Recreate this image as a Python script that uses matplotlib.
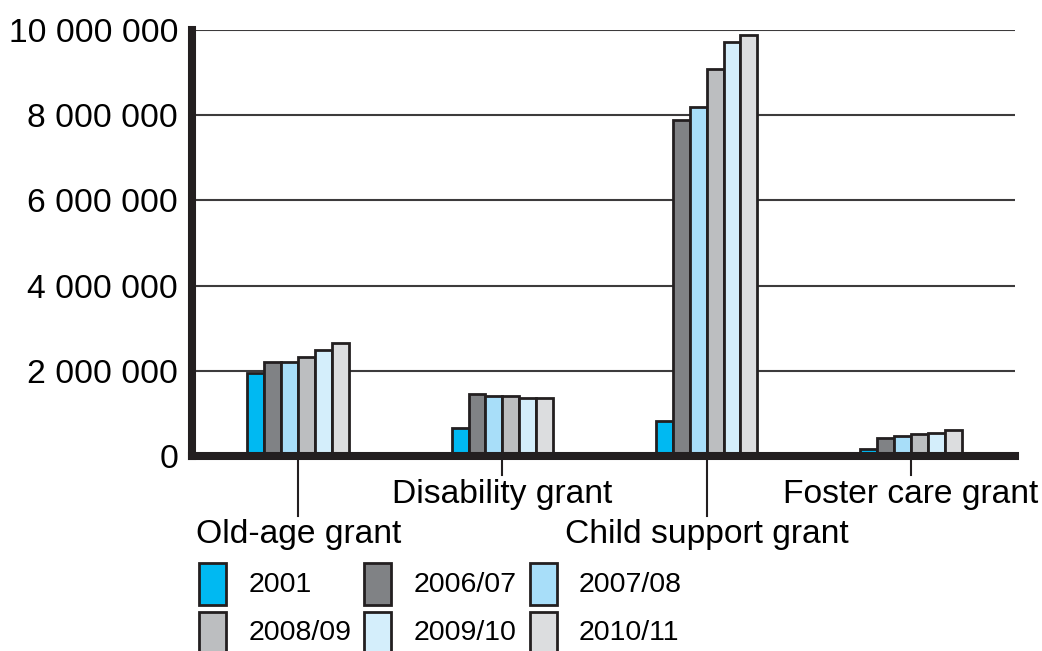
import numpy as np
import matplotlib.pyplot as plt
from matplotlib.patches import Rectangle
import matplotlib.transforms as mtransforms

# ---------------
# data
# ---------------
grants = ['Old-age grant', 'Disability grant', 'Child support grant', 'Foster care grant']
years = ['2001', '2006/07', '2007/08', '2008/09', '2009/10', '2010/11']
colors = ['#00b9f2', '#808285', '#a8def9', '#bcbec0', '#d4eefb', '#dcdddf']

values = {
    '2001':    [1950000, 650000, 820000, 170000],
    '2006/07': [2210000, 1450000, 7880000, 430000],
    '2007/08': [2210000, 1410000, 8190000, 480000],
    '2008/09': [2330000, 1410000, 9080000, 510000],
    '2009/10': [2500000, 1370000, 9720000, 540000],
    '2010/11': [2650000, 1370000, 9880000, 610000],
}
y_ticks = [0, 2000000, 4000000, 6000000, 8000000, 10000000]

edge = '#231f20'
plt.rcParams['font.family'] = ['Liberation Sans', 'DejaVu Sans']

fig = plt.figure(figsize=(10.42, 6.51), dpi=100)
ax = fig.add_axes([0.1843, 0.2995, 0.974 - 0.1843, 0.9539 - 0.2995])

x = np.arange(len(grants))
width = 0.083
for i, yr in enumerate(years):
    offs = (i - 2.5) * width
    ax.bar(x + offs, values[yr], width, color=colors[i], edgecolor=edge,
           linewidth=2.0, zorder=3)

ax.set_xlim(-0.52, 3.51)
ax.set_ylim(0, 10000000)
ax.set_yticks(y_ticks)
ax.set_yticklabels([f'{v:,}'.replace(',', ' ') for v in y_ticks], fontsize=24.2)
ax.tick_params(axis='y', length=0, pad=10)
ax.set_xticks([])

for v in y_ticks[1:]:
    ax.axhline(v, color='#3d3b3c', linewidth=1.5, zorder=1)

for s in ['top', 'right']:
    ax.spines[s].set_visible(False)
ax.spines['left'].set_linewidth(5.8)
ax.spines['left'].set_color(edge)
ax.spines['bottom'].set_linewidth(5.8)
ax.spines['bottom'].set_color(edge)
ax.spines['bottom'].set_zorder(5)

# staggered category labels with long tick lines
trans = mtransforms.blended_transform_factory(ax.transData, ax.transAxes)
for i, g in enumerate(grants):
    low = (i % 2 == 0)
    tick_end = -0.14 if low else -0.045
    label_y = -0.185 if low else -0.09
    ax.plot([x[i], x[i]], [0, tick_end], color=edge, linewidth=1.5,
            transform=trans, clip_on=False, zorder=4)
    ax.text(x[i], label_y, g, transform=trans, ha='center', va='center',
            fontsize=24.2)

# legend
col_x = [199, 364, 530]
text_x = [249, 414, 579]
row_top = [563, 612]
row_text = [585, 633]
W, H = 1042, 651
for i, yr in enumerate(years):
    r, c = divmod(i, 3)
    fig.patches.append(Rectangle((col_x[c] / W, 1 - (row_top[r] + 42) / H),
                                 27 / W, 42 / H, transform=fig.transFigure,
                                 facecolor=colors[i], edgecolor=edge,
                                 linewidth=2.0))
    fig.text(text_x[c] / W, 1 - row_text[r] / H, yr, ha='left', va='center',
             fontsize=20.5)

fig.savefig('out.png', dpi=100)
